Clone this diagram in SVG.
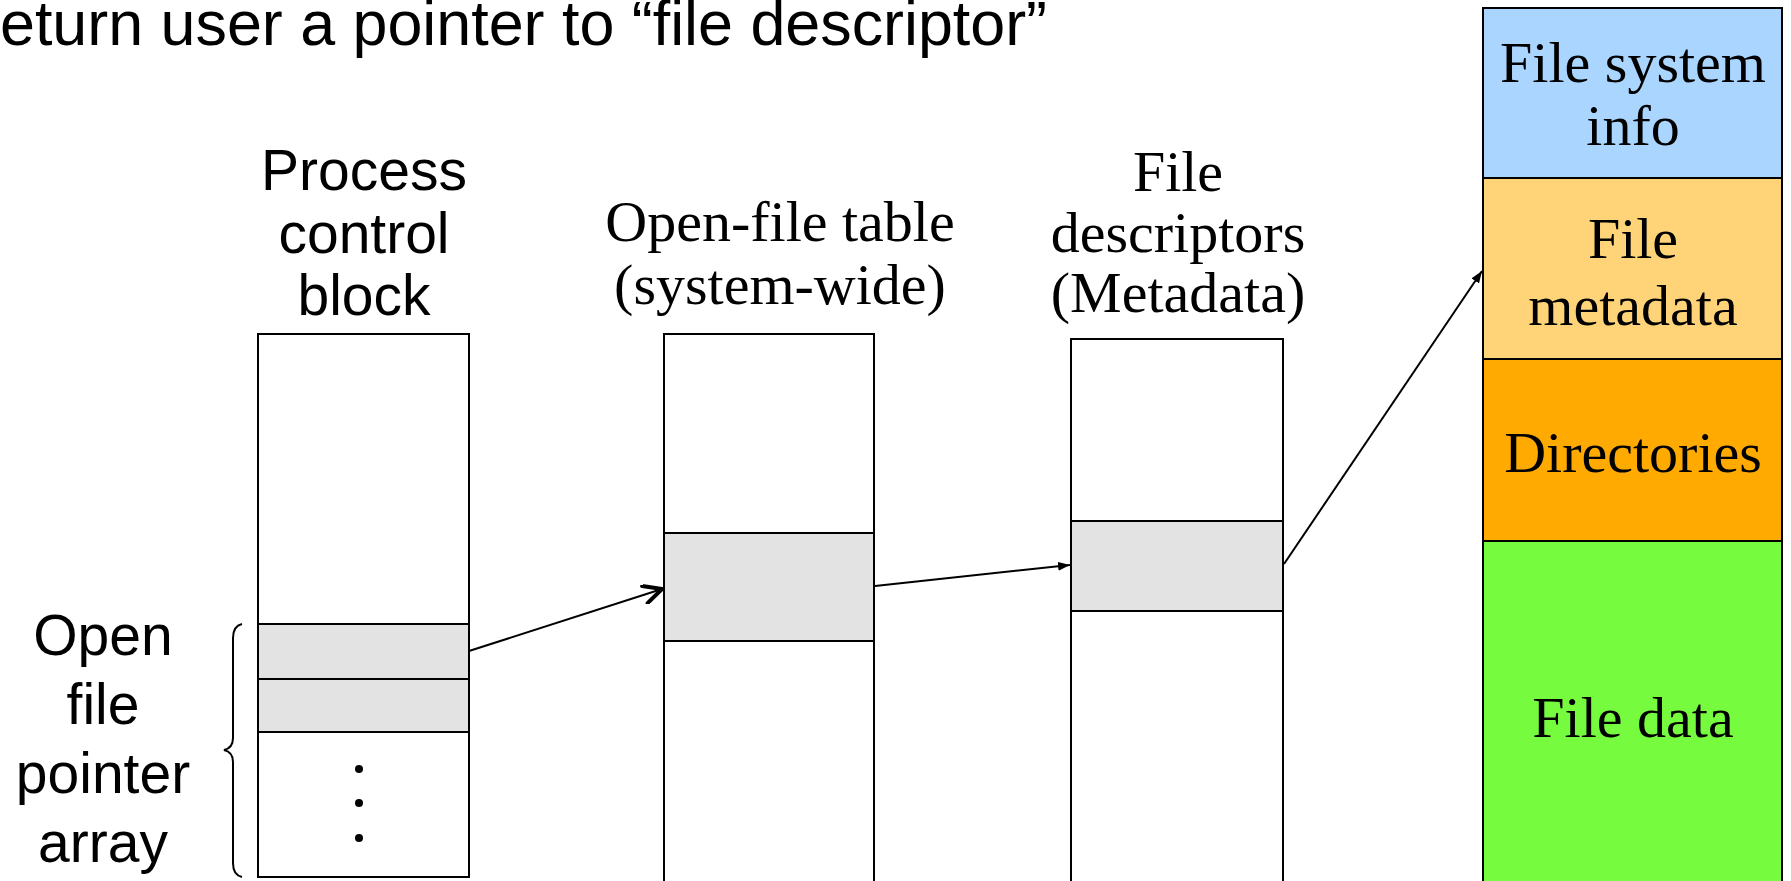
<svg xmlns="http://www.w3.org/2000/svg" width="1791" height="881" viewBox="0 0 1791 881">
<style>
.sans{font-family:"Liberation Sans",Arial,sans-serif;fill:#000}
.serif{font-family:"Liberation Serif","Times New Roman",serif;fill:#000}
.box{fill:#fff;stroke:#000;stroke-width:2}
.row{fill:#e3e3e3;stroke:#000;stroke-width:2}
.seg{stroke:#000;stroke-width:2}
.conn{stroke:#000;stroke-width:2;fill:none}
</style>
<defs>
<marker id="open" viewBox="0 0 24 20" refX="22" refY="10" markerWidth="24" markerHeight="20" markerUnits="userSpaceOnUse" orient="auto">
<path d="M4,1 L22,10 L4,19" fill="none" stroke="#000" stroke-width="4" stroke-linecap="round" stroke-linejoin="round"/>
</marker>
<marker id="tri" viewBox="0 0 12 9" refX="12" refY="4.5" markerWidth="12" markerHeight="9" markerUnits="userSpaceOnUse" orient="auto">
<path d="M0,0 L12,4.5 L0,9 Z" fill="#000"/>
</marker>
</defs>
<rect width="1791" height="881" fill="#fff"/>

<g id="title">
<text class="sans" x="0" y="45" font-size="63" textLength="1047" lengthAdjust="spacingAndGlyphs">eturn user a pointer to “file descriptor”</text>
</g>

<g id="pcb">
<text class="sans" font-size="57" text-anchor="middle" x="364" y="190">Process</text>
<text class="sans" font-size="57" text-anchor="middle" x="364" y="253">control</text>
<text class="sans" font-size="57" text-anchor="middle" x="364" y="315">block</text>
<rect class="box" x="258" y="334" width="211" height="543"/>
<rect class="row" x="258" y="624" width="211" height="55"/>
<rect class="row" x="258" y="679" width="211" height="53"/>
<circle cx="359" cy="769" r="4"/>
<circle cx="359" cy="803" r="4"/>
<circle cx="359" cy="838" r="4"/>
</g>

<g id="pointer-array">
<text class="sans" font-size="57" text-anchor="middle" x="103" y="655">Open</text>
<text class="sans" font-size="57" text-anchor="middle" x="103" y="724">file</text>
<text class="sans" font-size="57" text-anchor="middle" x="103" y="793">pointer</text>
<text class="sans" font-size="57" text-anchor="middle" x="103" y="862">array</text>
<path d="M242,624 Q233,626 233,638 L233,738 Q233,748 224,750 Q233,752 233,762 L233,863 Q233,875 242,877" fill="none" stroke="#000" stroke-width="2"/>
</g>

<g id="open-file-table">
<text class="serif" font-size="58" text-anchor="middle" x="780" y="241">Open-file table</text>
<text class="serif" font-size="58" text-anchor="middle" x="780" y="304">(system-wide)</text>
<rect class="box" x="664" y="334" width="210" height="570"/>
<rect class="row" x="664" y="533" width="210" height="108"/>
</g>

<g id="file-descriptors">
<text class="serif" font-size="58" text-anchor="middle" x="1178" y="191">File</text>
<text class="serif" font-size="58" text-anchor="middle" x="1178" y="252">descriptors</text>
<text class="serif" font-size="58" text-anchor="middle" x="1178" y="312">(Metadata)</text>
<rect class="box" x="1071" y="339" width="212" height="570"/>
<rect class="row" x="1071" y="521" width="212" height="90"/>
</g>

<g id="storage">
<rect class="seg" x="1483" y="8" width="299" height="170" fill="#a9d5ff"/>
<rect class="seg" x="1483" y="178" width="299" height="181" fill="#ffd479"/>
<rect class="seg" x="1483" y="359" width="299" height="182" fill="#ffaa00"/>
<rect class="seg" x="1483" y="541" width="299" height="370" fill="#76fb3e"/>
<text class="serif" font-size="58" text-anchor="middle" x="1633" y="82">File system</text>
<text class="serif" font-size="58" text-anchor="middle" x="1633" y="145">info</text>
<text class="serif" font-size="58" text-anchor="middle" x="1633" y="258">File</text>
<text class="serif" font-size="58" text-anchor="middle" x="1633" y="325">metadata</text>
<text class="serif" font-size="58" text-anchor="middle" x="1633" y="472">Directories</text>
<text class="serif" font-size="58" text-anchor="middle" x="1633" y="737">File data</text>
</g>

<g id="connectors">
<line class="conn" x1="469" y1="651" x2="662" y2="589" marker-end="url(#open)"/>
<line class="conn" x1="875" y1="586" x2="1070" y2="565" marker-end="url(#tri)"/>
<line class="conn" x1="1284" y1="564" x2="1482" y2="271" marker-end="url(#tri)"/>
</g>
</svg>
